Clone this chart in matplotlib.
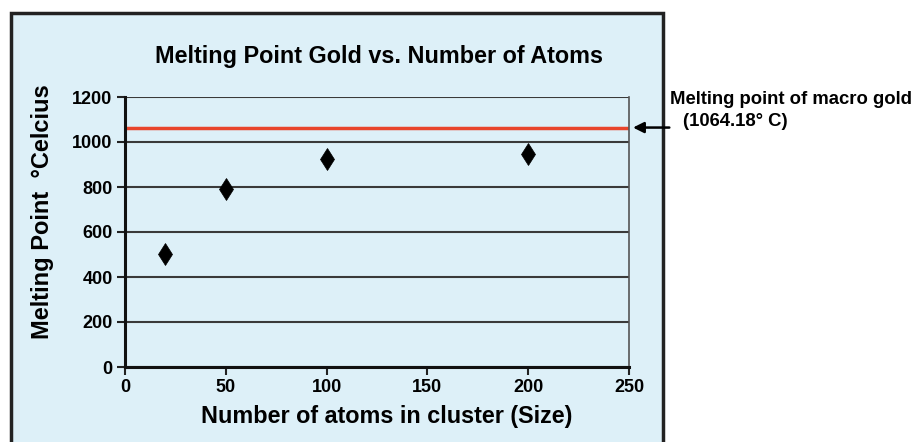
import matplotlib
matplotlib.use("Agg")
import matplotlib.pyplot as plt
from matplotlib.patches import Rectangle

plt.rcParams['font.family'] = ['Liberation Sans', 'DejaVu Sans']
plt.rcParams['font.weight'] = 'bold'

atoms = [20, 50, 100, 200]
melting = [502, 792, 924, 947]
macro_gold = 1064.18
x_ticks = [0, 50, 100, 150, 200, 250]
y_ticks = [0, 200, 400, 600, 800, 1000, 1200]

bg = '#DDF0F8'
fig = plt.figure(figsize=(9.16, 4.42), dpi=100)
fig.patch.set_facecolor('white')

bgax = fig.add_axes([0, 0, 1, 1], zorder=-5)
bgax.set_xlim(0, 916)
bgax.set_ylim(442, 0)
bgax.axis('off')
bgax.add_patch(Rectangle((11, 13), 663 - 11, 460, facecolor=bg, edgecolor='#222222',
                         linewidth=2.5, clip_on=False))

ax = fig.add_axes([125/916, 1 - 367/442, (629-125)/916, (367-97)/442])
ax.set_facecolor(bg)
ax.set_xlim(0, 250)
ax.set_ylim(0, 1200)
ax.set_xticks(x_ticks)
ax.set_yticks(y_ticks)
ax.tick_params(axis='both', labelsize=13, width=1.5, length=6, color='#222222', pad=3)
for lab in ax.get_xticklabels() + ax.get_yticklabels():
    lab.set_fontweight('bold')

ax.grid(axis='y', color='#3a3a3a', linewidth=1.5, zorder=1)
ax.set_axisbelow(True)
for s in ['left', 'bottom']:
    ax.spines[s].set_linewidth(2.2)
    ax.spines[s].set_color('#111111')
ax.spines['right'].set_linewidth(1.2)
ax.spines['right'].set_color('#555555')
ax.spines['top'].set_visible(False)

ax.axhline(macro_gold, color='#E8452C', linewidth=2.5, zorder=2)
ax.plot(atoms, melting, linestyle='none', marker='d', markersize=11.5,
        color='black', markeredgewidth=0.5, zorder=3, clip_on=False)

fig.text(379/916, 1 - 56/442, 'Melting Point Gold vs. Number of Atoms',
         ha='center', va='center', fontsize=16.8, fontweight='bold')
fig.text(387/916, 1 - 416/442, 'Number of atoms in cluster (Size)',
         ha='center', va='center', fontsize=16.8, fontweight='bold')
fig.text(43/916, 1 - 212/442, 'Melting Point  °Celcius', rotation=90,
         ha='center', va='center', fontsize=17, fontweight='bold')

ax.annotate('', xy=(1.008, macro_gold), xytext=(1.08, macro_gold),
            xycoords=('axes fraction', 'data'), textcoords=('axes fraction', 'data'),
            arrowprops=dict(arrowstyle='-|>', color='black', lw=1.8,
                            mutation_scale=16, shrinkA=0, shrinkB=0),
            annotation_clip=False)
fig.text(670/916, 1 - 100/442, 'Melting point of macro gold', ha='left', va='center',
         fontsize=13.3, fontweight='bold')
fig.text(683/916, 1 - 122/442, '(1064.18° C)', ha='left', va='center',
         fontsize=13.3, fontweight='bold')

fig.savefig('out.png', dpi=100, facecolor='white')
